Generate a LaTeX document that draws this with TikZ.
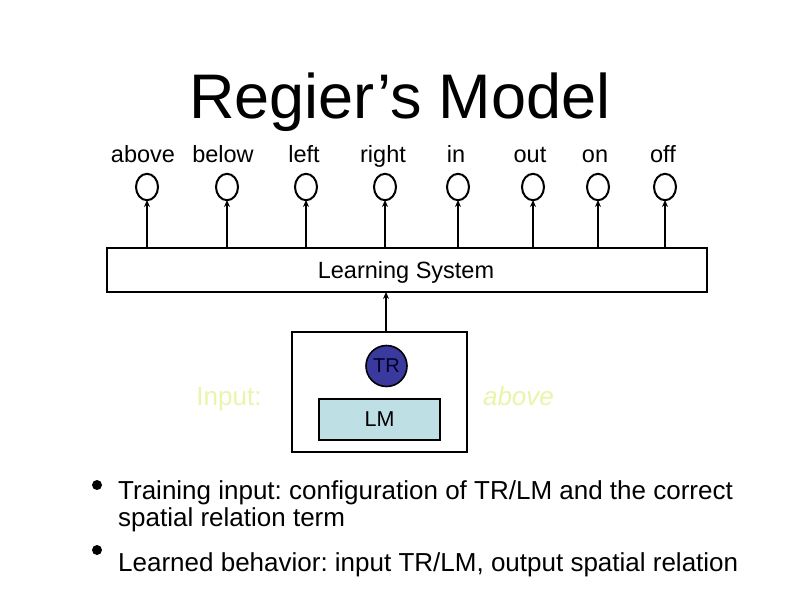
\documentclass[tikz,border=0pt]{standalone}
\usepackage{fontspec}
\setmainfont{Liberation Sans}
\usetikzlibrary{arrows.meta}
\definecolor{inyellow}{RGB}{232,245,170}
\definecolor{trblue}{RGB}{58,58,158}
\definecolor{lmcyan}{RGB}{190,224,228}
\frenchspacing
\begin{document}
\begin{tikzpicture}[x=1pt,y=-1pt,
  lbl/.style={font=\fontsize{23.5}{26}\selectfont,anchor=base,inner sep=0pt},
  conn/.style={line width=1.8pt,-{Stealth[length=7pt,width=6pt]}},
  bul/.style={font=\fontsize{26}{26}\selectfont,anchor=base west,inner sep=0pt,align=left}
]
\useasboundingbox (0,0) rectangle (800,600);
\fill[white] (0,0) rectangle (800,600);
\node[font=\fontsize{63}{70}\selectfont,anchor=base,inner sep=0pt] (title) at (400,118) {Regier’s Model};
\node[draw,line width=2pt,minimum width=600pt,minimum height=44pt,inner sep=0pt] (ls) at (407,270) {};
\node[font=\fontsize{23.5}{26}\selectfont,anchor=base,inner sep=0pt] (lstext) at (406,278) {Learning System};
\foreach \n/\x/\lx/\t in {a/147/143/above,b/227/223/below,c/306/304/left,d/385/383/right,e/458/456/in,f/533/530/out,g/598/595/on,h/665/663/off}{
  \node[lbl] (l\n) at (\lx,162) {\t};
  \node[draw,line width=2pt,circle,minimum size=22pt,inner sep=0pt,yscale=1.2] (u\n) at (\x,187) {};
  \coordinate (s\n) at (\x,248);
  \draw[conn] (s\n) -- (\x,200);
}
\node[draw,line width=2pt,minimum width=175pt,minimum height=120pt,inner sep=0pt] (inbox) at (379.5,392) {};
\draw[conn] (386,332) -- (386,292);
\node[draw,line width=1.6pt,fill=lmcyan,minimum width=121pt,minimum height=41pt,inner sep=0pt,font=\fontsize{21.5}{24}\selectfont] (lm) at (379.5,419.5) {LM};
\node[draw,line width=1.6pt,fill=trblue,circle,minimum size=41pt,inner sep=0pt,font=\fontsize{20}{22}\selectfont,text=black!85!blue] (tr) at (386.5,366) {TR};
\node[font=\fontsize{26}{28}\selectfont,text=inyellow,anchor=base,inner sep=0pt] (inp) at (229,405) {Input:};
\node[font=\fontsize{26}{28}\selectfont\itshape,text=inyellow,anchor=base,inner sep=0pt] (abv) at (518.5,405) {above};
\fill (97,485) circle (5pt);
\fill (97,550) circle (5pt);
\node[bul] (b1) at (118,499) {Training input: configuration of TR/LM and the correct};
\node[bul] (b1b) at (118,526) {spatial relation term};
\node[bul] (b2) at (118,571) {Learned behavior: input TR/LM, output spatial relation};
\end{tikzpicture}
\end{document}
